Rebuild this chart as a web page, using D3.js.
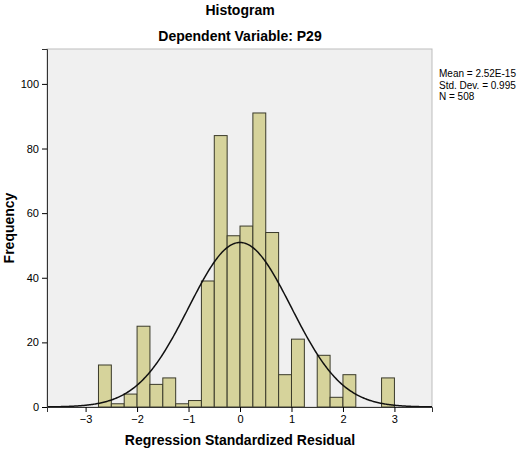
<!DOCTYPE html>
<html><head><meta charset="utf-8">
<script src="https://cdn.jsdelivr.net/npm/d3@7"></script>
<style>body{margin:0;background:#fff}text{font-family:Arial,"Liberation Sans",sans-serif}</style>
</head><body>
<svg id="c" width="520" height="452"></svg>
<script>
// bin start values (width 0.25) and counts
const binStarts = [-2.75,-2.5,-2.25,-2,-1.75,-1.5,-1.25,-1,-0.75,-0.5,-0.25,0,0.25,0.5,0.75,1,1.25,1.5,1.75,2,2.25,2.5,2.75]
const counts = [13,1,4,25,7,9,1,2,39,84,53,56,91,54,10,21,0,16,3,10,0,0,9]
const xTicks = [-3,-2,-1,0,1,2,3]
const yTicks = [0,20,40,60,80,100]
const stats = ['Mean = 2.52E-15','Std. Dev. = 0.995','N = 508']
const binW = 0.25, mean = 0, sd = 0.995, n = 508

const svg = d3.select('#c')
const mLeft = 47, mRight = 432, mTop = 49, mBottom = 407

const x = d3.scaleLinear().domain([-3.75, 3.73]).range([mLeft, mRight])
const y = d3.scaleLinear().domain([0, 110.8]).range([mBottom, mTop])

svg.append('rect').attr('x', mLeft).attr('y', mTop).attr('width', mRight - mLeft).attr('height', mBottom - mTop)
  .attr('fill', '#f0f0f0').attr('stroke', '#bdbdbd')

svg.selectAll('.bar').data(binStarts).join('rect')
  .attr('x', d => x(d)).attr('width', d => x(d + binW) - x(d))
  .attr('y', (d, i) => y(counts[i])).attr('height', (d, i) => y(0) - y(counts[i]))
  .attr('fill', '#d6d39b').attr('stroke', '#3a3a2a').attr('stroke-width', 1)
  .style('display', (d, i) => counts[i] ? null : 'none')

const pdf = v => n * binW / (sd * Math.sqrt(2 * Math.PI)) * Math.exp(-0.5 * ((v - mean) / sd) ** 2)
const pts = d3.range(-3.75, 3.731, 0.02)
svg.append('path').datum(pts)
  .attr('d', d3.line().x(d => x(d)).y(d => y(pdf(d))))
  .attr('fill', 'none').attr('stroke', '#111').attr('stroke-width', 1.5)

svg.append('g').attr('transform', `translate(0,${mBottom})`)
  .call(d3.axisBottom(x).tickValues(xTicks).tickSize(5).tickFormat(d => d < 0 ? '\u2212' + (-d) : d))
  .call(g => g.select('.domain').attr('stroke', '#333'))
  .selectAll('text').attr('font-size', 11).attr('fill', '#000')

svg.append('g').attr('transform', `translate(${mLeft},0)`)
  .call(d3.axisLeft(y).tickValues(yTicks).tickSize(5))
  .call(g => g.select('.domain').attr('stroke', '#333'))
  .selectAll('text').attr('font-size', 11).attr('fill', '#000')

svg.append('text').attr('x', 240).attr('y', 15).attr('text-anchor', 'middle')
  .attr('font-size', 14).attr('font-weight', 'bold').text('Histogram')
svg.append('text').attr('x', 240).attr('y', 41).attr('text-anchor', 'middle')
  .attr('font-size', 14).attr('font-weight', 'bold').text('Dependent Variable: P29')
svg.append('text').attr('x', 240).attr('y', 445).attr('text-anchor', 'middle')
  .attr('font-size', 14).attr('font-weight', 'bold').text('Regression Standardized Residual')
svg.append('text').attr('transform', 'translate(14,228) rotate(-90)').attr('text-anchor', 'middle')
  .attr('font-size', 14).attr('font-weight', 'bold').text('Frequency')

svg.selectAll('.stat').data(stats).join('text')
  .attr('x', 439).attr('y', (d, i) => 77 + i * 11.5).attr('font-size', 10).text(d => d)
</script>
</body></html>
